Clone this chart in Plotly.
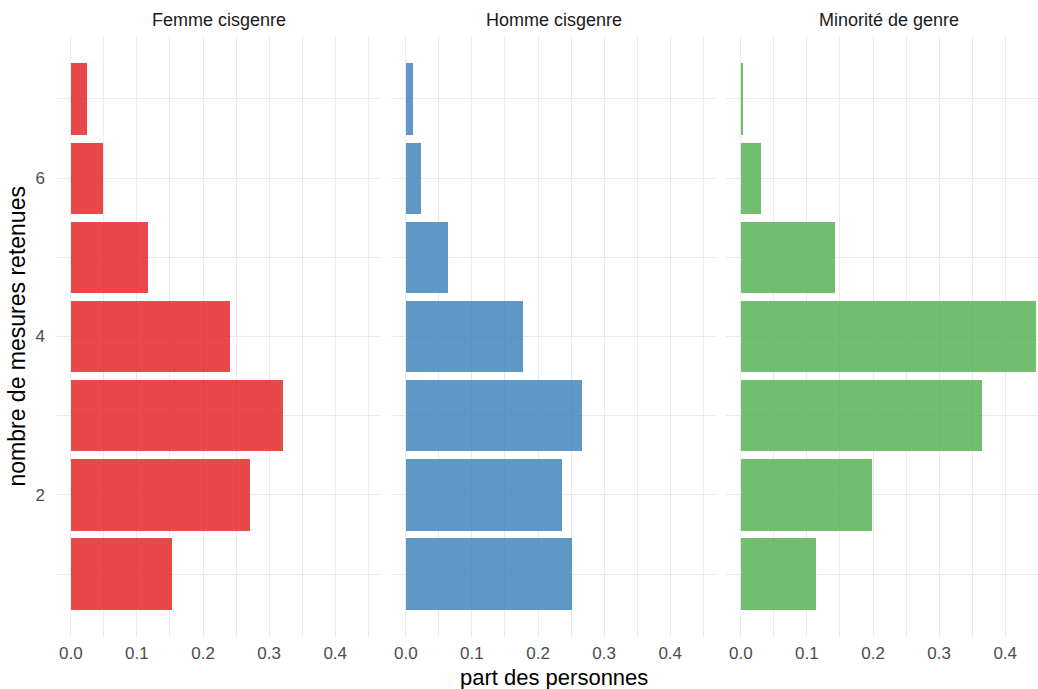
import plotly.graph_objects as go

nb_mesures = [1, 2, 3, 4, 5, 6, 7]
genres = ["Femme cisgenre", "Homme cisgenre", "Minorité de genre"]
part_femme = [0.153, 0.271, 0.321, 0.241, 0.117, 0.048, 0.024]
part_homme = [0.252, 0.236, 0.267, 0.177, 0.064, 0.023, 0.011]
part_minorite = [0.114, 0.198, 0.365, 0.447, 0.142, 0.030, 0.003]
colors = ["rgba(228,26,28,0.8)", "rgba(55,126,184,0.8)", "rgba(77,175,74,0.8)"]
x_ticks = [0.0, 0.1, 0.2, 0.3, 0.4]
x_tick_labels = ["0.0", "0.1", "0.2", "0.3", "0.4"]
y_ticks = [2, 4, 6]

W, H = 1038, 689
ml, mr, mt, mb = 56, 0, 36, 52
pw = W - ml - mr
ph = H - mt - mb

def fx(px):
    return (px - ml) / pw

def fy(py):
    return (H - mb - py) / ph

panels_px = [(56, 381), (391, 716), (726, 1038)]
px_per_unit = 661.0
x0 = -0.0224

FONT = "Liberation Sans, Arial, sans-serif"

fig = go.Figure()
series = [part_femme, part_homme, part_minorite]
for i, vals in enumerate(series):
    fig.add_trace(go.Bar(
        x=vals, y=nb_mesures, orientation="h", width=0.9,
        marker=dict(color=colors[i], line=dict(width=0)),
        xaxis="x" if i == 0 else f"x{i+1}",
        yaxis="y" if i == 0 else f"y{i+1}",
        showlegend=False, hoverinfo="x+y",
    ))

gridc = "#EBEBEB"
tickfont = dict(family=FONT, size=17, color="#4D4D4D")
layout = dict(
    width=W, height=H,
    margin=dict(l=ml, r=mr, t=mt, b=mb, pad=0, autoexpand=False),
    paper_bgcolor="white", plot_bgcolor="white",
    font=dict(family=FONT),
    bargap=0,
)
for i, (a, b) in enumerate(panels_px):
    xname = "xaxis" if i == 0 else f"xaxis{i+1}"
    yname = "yaxis" if i == 0 else f"yaxis{i+1}"
    xr = [x0, x0 + (b - a) / px_per_unit]
    layout[xname] = dict(
        domain=[fx(a), min(fx(b), 1.0)], range=xr,
        tickvals=x_ticks, ticktext=x_tick_labels, tickfont=tickfont,
        showgrid=True, gridcolor=gridc, gridwidth=1.2,
        minor=dict(showgrid=True, gridcolor=gridc, gridwidth=0.6, tickvals=[0.05, 0.15, 0.25, 0.35, 0.45]),
        zeroline=False, showline=False, ticks="", ticklabelstandoff=4,
        anchor="y" if i == 0 else f"y{i+1}", fixedrange=True, automargin=False,
    )
    layout[yname] = dict(
        domain=[0, 1], range=[0.205, 7.795],
        tickvals=y_ticks, showticklabels=(i == 0), tickfont=tickfont,
        showgrid=True, gridcolor=gridc, gridwidth=1.2,
        minor=dict(showgrid=True, gridcolor=gridc, gridwidth=0.6, tickvals=[1, 3, 5, 7]),
        zeroline=False, showline=False, ticks="", ticklabelstandoff=10,
        anchor="x" if i == 0 else f"x{i+1}", fixedrange=True, automargin=False,
    )
fig.update_layout(**layout)

annots = []
centers = [218.5, 553.5, 888.5]
for g, c in zip(genres, centers):
    annots.append(dict(text=g, x=fx(c), y=fy(20), xref="paper", yref="paper",
                       showarrow=False, xanchor="center", yanchor="middle",
                       font=dict(size=18, color="#1A1A1A", family=FONT)))
annots.append(dict(text="part des personnes", x=fx(553.5), y=fy(677), xref="paper", yref="paper",
                   showarrow=False, xanchor="center", yanchor="middle",
                   font=dict(size=22, color="black", family=FONT)))
annots.append(dict(text="nombre de mesures retenues", x=fx(16), y=fy(336.5), xref="paper", yref="paper",
                   showarrow=False, xanchor="center", yanchor="middle", textangle=-90,
                   font=dict(size=23, color="black", family=FONT)))
fig.update_layout(annotations=annots)

fig.write_html("out.html", config={"displayModeBar": False},
               post_script="document.body.style.margin='0';document.body.style.overflow='hidden';")
